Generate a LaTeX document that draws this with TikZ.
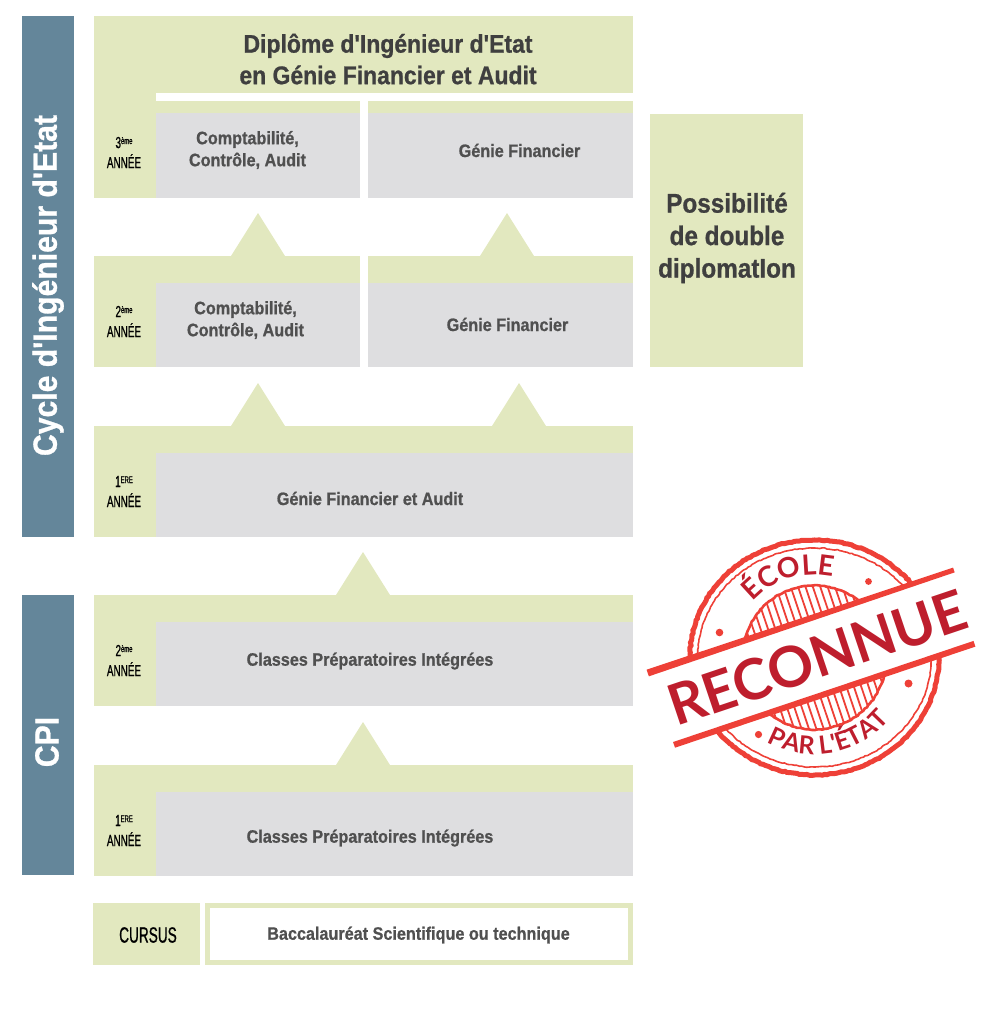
\documentclass[tikz,border=0pt]{standalone}
\usepackage{fontspec}
\usetikzlibrary{decorations.text,decorations.pathmorphing}
\setmainfont{Liberation Sans}
\newfontfamily\robo[FakeStretch=0.9,FakeBold=0.8]{Liberation Sans}
\newfontfamily\narrow[FakeStretch=0.62,FakeBold=0.8]{Liberation Sans}
\newfontfamily\stampf{Lato}
\definecolor{lime}{HTML}{E2E8BF}
\definecolor{greybox}{HTML}{DEDEE0}
\definecolor{slate}{HTML}{64869A}
\definecolor{inkgrey}{HTML}{505050}
\definecolor{inkdark}{HTML}{3F3F3F}
\definecolor{stampred}{HTML}{EE4037}
\definecolor{stampdark}{HTML}{BE1E2D}
\tikzset{
  limefill/.style={fill=lime,draw=none},
  greyfill/.style={fill=greybox,draw=none},
  slatefill/.style={fill=slate,draw=none},
  boxlabel/.style={inner sep=0pt,align=center,text=inkgrey,font=\robo\bfseries\fontsize{18}{22}\selectfont},
  yearlabel/.style={inner sep=0pt,align=center,text=black,font=\narrow\fontsize{16}{20}\selectfont},
  sidelabel/.style={inner sep=0pt,text=white,rotate=90,font=\robo\bfseries\fontsize{33.5}{40}\selectfont},
  titlelabel/.style={inner sep=0pt,align=center,text=inkdark,font=\robo\bfseries\fontsize{25.5}{31.5}\selectfont},
  ringline/.style={draw=stampred,decorate,decoration={random steps,segment length=2.5pt,amplitude=0.5pt}}
}
\newcommand{\yr}[2]{{\fontsize{16}{16}\selectfont #1}\raisebox{4pt}{\fontsize{9.5}{9.5}\selectfont #2}\\ANNÉE}
\begin{document}
\begin{tikzpicture}[x=1pt,y=-1pt]
\useasboundingbox (0,0) rectangle (984,1021);
% side bands
\fill[slatefill] (22,16) rectangle (74,537);
\fill[slatefill] (22,595) rectangle (74,875);
\node[sidelabel] (cycle) at (48,285.5) {Cycle d'Ingénieur d'Etat};
\node[sidelabel] (cpi) at (47,742) {CPI};
% top block
\fill[limefill] (94,16) rectangle (633,93);
\fill[limefill] (94,93) rectangle (156,198);
\fill[limefill] (156,101) rectangle (360,113);
\fill[limefill] (368,101) rectangle (633,113);
\fill[greyfill] (156,113) rectangle (360,198);
\fill[greyfill] (368,113) rectangle (633,198);
\node[titlelabel] (title) at (388,59) {Diplôme d'Ingénieur d'Etat\\en Génie Financier et Audit};
\node[yearlabel] (y3) at (124,152.5) {\yr{3}{ème}};
\node[boxlabel] (a3) at (247.5,150) {Comptabilité,\\Contrôle, Audit};
\node[boxlabel] (b3) at (519.5,150.5) {Génie Financier};
% second year
\fill[limefill] (231,256) -- (258,213) -- (285,256) -- cycle;
\fill[limefill] (480,256) -- (507,213) -- (534,256) -- cycle;
\fill[limefill] (94,256) rectangle (360,367);
\fill[limefill] (368,256) rectangle (633,283);
\fill[greyfill] (156,283) rectangle (360,367);
\fill[greyfill] (368,283) rectangle (633,367);
\node[yearlabel] (y2) at (124,321.5) {\yr{2}{ème}};
\node[boxlabel] (a2) at (245.5,320) {Comptabilité,\\Contrôle, Audit};
\node[boxlabel] (b2) at (507.5,324.5) {Génie Financier};
% first year
\fill[limefill] (231,426) -- (258,383) -- (285,426) -- cycle;
\fill[limefill] (492,426) -- (519,383) -- (546,426) -- cycle;
\fill[limefill] (94,426) rectangle (633,537);
\fill[greyfill] (156,453) rectangle (633,537);
\node[yearlabel] (y1) at (124,491.5) {\yr{1}{ERE}};
\node[boxlabel] (c1) at (370,498.5) {Génie Financier et Audit};
% CPI 2
\fill[limefill] (336,595) -- (363,552) -- (390,595) -- cycle;
\fill[limefill] (94,595) rectangle (633,706);
\fill[greyfill] (156,622) rectangle (633,706);
\node[yearlabel] (p2) at (124,660.5) {\yr{2}{ème}};
\node[boxlabel] (c2) at (370,661) {Classes Préparatoires Intégrées};
% CPI 1
\fill[limefill] (336,765) -- (363,722) -- (390,765) -- cycle;
\fill[limefill] (94,765) rectangle (633,876);
\fill[greyfill] (156,792) rectangle (633,876);
\node[yearlabel] (p1) at (124,830.5) {\yr{1}{ERE}};
\node[boxlabel] (c0) at (370,838) {Classes Préparatoires Intégrées};
% cursus
\fill[limefill] (93,903) rectangle (200,965);
\fill[limefill] (205,903) rectangle (633,965);
\fill[white] (210,908) rectangle (628,960);
\node[inner sep=0pt,text=black,font=\narrow\fontsize{22}{22}\selectfont] (cursus) at (148,935) {CURSUS};
\node[boxlabel] (bac) at (418.5,935) {Baccalauréat Scientifique ou technique};
% double diplome
\fill[limefill] (650,114) rectangle (803,367);
\node[inner sep=0pt,align=center,text=inkdark,font=\robo\bfseries\fontsize{27}{32.5}\selectfont] (dd) at (727,238) {Possibilité\\de double\\diplomatIon};
% stamp
\pgfmathsetseed{7}
\begin{scope}[shift={(814.5,657.5)},y=1pt]
  \draw[ringline,line width=5pt] (0,0) ellipse [x radius=124.5pt,y radius=117.5pt];
  \draw[ringline,line width=1.6pt] (0,0) ellipse [x radius=117pt,y radius=109.5pt];
  \fill[stampred] (-95,25) circle (3.8pt);
  \fill[stampred] (54,76) circle (3.4pt);
  \fill[stampred] (94,-26) circle (4pt);
  \fill[stampred] (-56,-77) circle (3.6pt);
  \begin{scope}[rotate=18.6]
    \begin{scope}
      \clip (0,0) circle (73pt);
      \foreach \u in {-70,-63,...,70} {
        \draw[stampred,line width=1.8pt] (\u,-80) -- (\u,80);
      }
    \end{scope}
    \draw[ringline,line width=2.6pt] (0,0) circle (72pt);
    \fill[white] (-163,-38) rectangle (160,38);
    \fill[stampred] (-163,35) -- (160,36) -- (160,41) -- (-163,42) -- cycle;
    \fill[stampred] (-161,-41) -- (156,-41) -- (156,-35) -- (-161,-35) -- cycle;
    \node[inner sep=0pt,rotate=18.6,text=stampdark,font=\stampf\bfseries\fontsize{56.5}{56.5}\selectfont] (reconnue) at (2.5,-1) {RECONNUE};
    \path[decorate,decoration={text along path,text align=center,
      text={|\stampf\bfseries\fontsize{28}{28}\selectfont\color{stampdark}|ÉCOLE}}]
      (139:83pt) arc[start angle=139,end angle=39,radius=83pt];
    \path[decorate,decoration={text along path,text align=center,
      text={|\stampf\bfseries\fontsize{25}{25}\selectfont\color{stampdark}|PAR L'ÉTAT}}]
      (192:97pt) arc[start angle=192,end angle=332,radius=97pt];
  \end{scope}
\end{scope}
\end{tikzpicture}
\end{document}
